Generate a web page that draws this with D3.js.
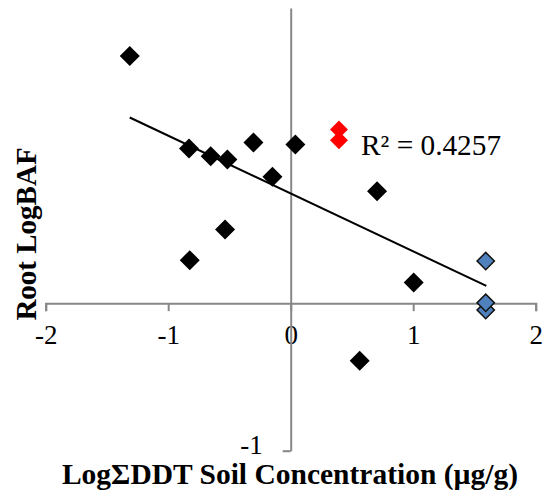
<!DOCTYPE html>
<html><head><meta charset="utf-8">
<script src="https://cdn.jsdelivr.net/npm/d3@7"></script>
<style>body{margin:0;background:#fff}svg{display:block}</style>
</head><body>
<script>
const xTicks = [-2, -1, 0, 1, 2];
const xTickLabels = ["-2", "-1", "0", "1", "2"];
const yTicks = [-1];
const yTickLabels = ["-1"];
const blackX = [-1.314, -0.83, -0.653, -0.517, -0.304, -0.149, -0.536, -0.824, 0.038, 0.705, 1.004, 0.563];
const blackY = [1.675, 1.048, 0.996, 0.973, 1.089, 0.856, 0.499, 0.291, 1.075, 0.759, 0.140, -0.391];
const redX = [0.394, 0.394];
const redY = [1.177, 1.104];
const blueX = [1.592, 1.592, 1.592];
const blueY = [-0.047, 0.002, 0.285];
const trendX = [-1.314, 1.597];
const trendY = [1.258, 0.117];
const r2Label = "R² = 0.4257";
const xTitle = "LogΣDDT Soil Concentration (µg/g)";
const yTitle = "Root LogBAF";

const W = 546, H = 496;
const svg = d3.select("body").append("svg").attr("width", W).attr("height", H);
const x = d3.scaleLinear().domain([-2, 2]).range([45.7, 535.7]);
const y = d3.scaleLinear().domain([-1, 2]).range([450.7, 8]);
const axisColor = "#878787";
const font = "'Liberation Serif','Times New Roman',serif";

// x axis
const gx = svg.append("g").attr("transform", `translate(0,${y(0)})`)
  .call(d3.axisBottom(x).tickValues(xTicks).tickFormat((d,i)=>xTickLabels[i]).tickSize(8).tickPadding(14));
gx.select(".domain").attr("stroke", axisColor).attr("stroke-width", 2);
gx.selectAll(".tick line").attr("stroke", axisColor).attr("stroke-width", 2);
gx.selectAll(".tick text").attr("font-family", font).attr("font-size", 27).attr("fill", "#000");

// y axis
const gy = svg.append("g").attr("transform", `translate(${x(0)},0)`)
  .call(d3.axisLeft(y).tickValues(yTicks).tickFormat((d,i)=>yTickLabels[i]).tickSize(8).tickSizeOuter(0).tickPadding(20));
gy.select(".domain").attr("stroke", axisColor).attr("stroke-width", 2);
gy.selectAll(".tick line").attr("stroke", axisColor).attr("stroke-width", 2);
gy.selectAll(".tick text").attr("font-family", font).attr("font-size", 27).attr("fill", "#000").attr("dy", "0.1em");

// trend line
svg.append("line")
  .attr("x1", x(trendX[0])).attr("y1", y(trendY[0]))
  .attr("x2", x(trendX[1])).attr("y2", y(trendY[1]))
  .attr("stroke", "#000").attr("stroke-width", 2);

const diamond = d3.symbol().type(d3.symbolSquare);
function drawPts(xs, ys, size, fill, stroke, sw) {
  svg.append("g").selectAll("path").data(xs.map((v,i)=>[v, ys[i]])).join("path")
    .attr("d", diamond.size(size)())
    .attr("transform", d => `translate(${x(d[0])},${y(d[1])}) rotate(45)`)
    .attr("fill", fill).attr("stroke", stroke).attr("stroke-width", sw);
}
drawPts(blackX, blackY, 200, "#000", "none", 0);
drawPts(redX, redY, 160, "#ff0000", "none", 0);
drawPts(blueX, blueY, 150, "#4f81bd", "#111", 1.5);

// R2 label
svg.append("text").attr("x", 361).attr("y", 155).attr("font-family", font).attr("font-size", 29.3).text(r2Label);

// titles
svg.append("text").attr("x", 290).attr("y", 484).attr("text-anchor", "middle")
  .attr("font-family", font).attr("font-weight", "bold").attr("font-size", 29.5).text(xTitle);
svg.append("text").attr("transform", "translate(36,234) rotate(-90)").attr("text-anchor", "middle")
  .attr("font-family", font).attr("font-weight", "bold").attr("font-size", 29).text(yTitle);
</script>
</body></html>
